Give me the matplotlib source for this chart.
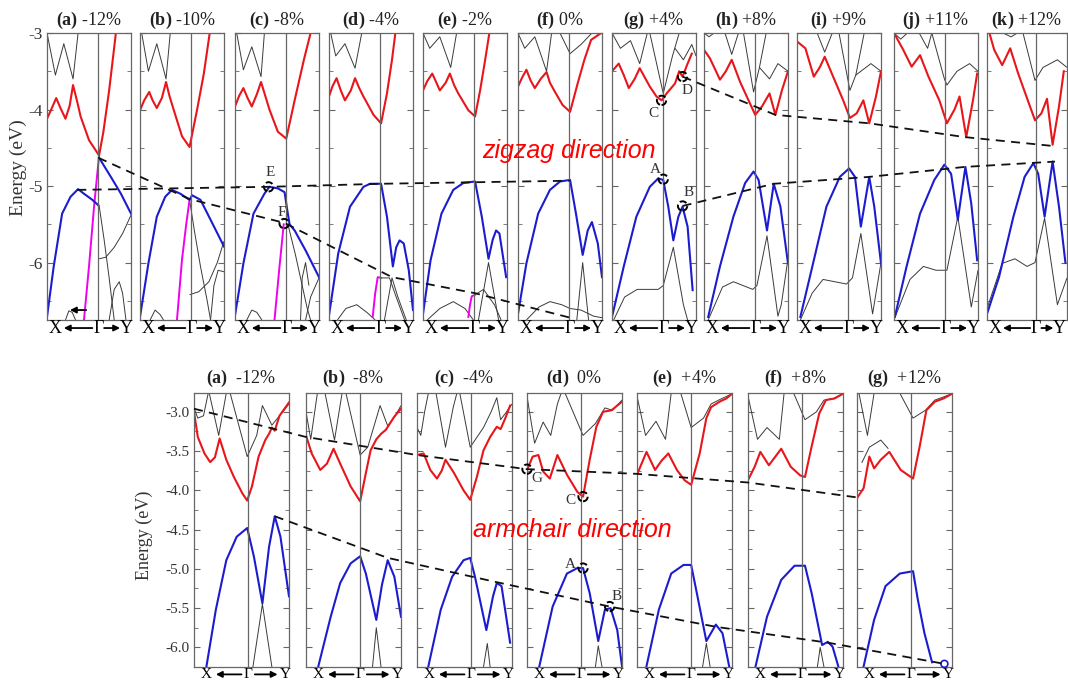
import matplotlib
matplotlib.use("Agg")
import matplotlib.pyplot as plt
from matplotlib.lines import Line2D
from matplotlib.ticker import MultipleLocator, FormatStrFormatter

plt.rcParams["font.family"] = ["Liberation Serif", "DejaVu Serif"]
plt.rcParams["mathtext.fontset"] = "custom"
plt.rcParams["mathtext.rm"] = "Liberation Serif"
plt.rcParams["mathtext.bf"] = "Liberation Serif:bold"

RED = "#e8161b"
BLUE = "#1c1ccf"
MAG = "#f000f0"
GRAY = "#3a3a3a"
FRAME = "#666666"

# ---------------- zigzag direction (top row) ----------------
ZZ_TAGS = ["(a)", "(b)", "(c)", "(d)", "(e)", "(f)", "(g)", "(h)", "(i)", "(j)", "(k)"]
ZZ_STRAIN = ["-12%", "-10%", "-8%", "-4%", "-2%", "0%", "+4%", "+8%", "+9%", "+11%", "+12%"]

za_cb = [(0, -4.12), (0.05, -4.0), (0.11, -3.85), (0.16, -3.98), (0.22, -4.12), (0.27, -3.95), (0.31, -3.68),
         (0.36, -3.9), (0.4, -4.09), (0.5, -4.4), (0.62, -4.6), (0.67, -4.3), (0.74, -3.75), (0.82, -3.0)]
za_vb = [[(0, -6.71), (0.08, -6.05), (0.18, -5.36), (0.28, -5.14), (0.37, -5.04), (0.44, -5.1), (0.54, -5.18), (0.61, -5.25)],
         [(0.62, -4.63), (0.76, -4.88), (0.88, -5.1), (1.0, -5.36)]]
za_mg = [(0.44, -6.75), (0.5, -6.05), (0.56, -5.27), (0.62, -4.6)]
za_gr = [[(0.0, -3.0), (0.1, -3.55), (0.2, -3.14), (0.31, -3.6), (0.37, -3.0)],
         [(0.62, -5.25), (0.68, -5.7), (0.74, -6.2), (0.8, -6.75)],
         [(0.62, -5.95), (0.7, -5.93), (0.8, -5.8), (0.9, -5.62), (1.0, -5.38)],
         [(0.74, -6.75), (0.8, -6.35), (0.86, -6.25), (0.9, -6.4), (0.94, -6.75)],
         [(0.22, -6.75), (0.26, -6.63), (0.3, -6.65), (0.34, -6.75)]]

zb_cb = [(0, -4.01), (0.05, -3.88), (0.11, -3.77), (0.15, -3.88), (0.2, -3.98), (0.26, -3.85), (0.31, -3.64),
         (0.35, -3.82), (0.4, -4.0), (0.5, -4.35), (0.59, -4.49), (0.68, -4.0), (0.76, -3.53), (0.83, -3.0)]
zb_vb = [[(0, -6.71), (0.1, -6.01), (0.2, -5.4), (0.3, -5.14), (0.38, -5.05), (0.48, -5.1), (0.59, -5.18),
          (0.62, -5.12), (0.72, -5.18), (0.84, -5.44), (1.0, -5.79)]]
zb_mg = [(0.44, -6.75), (0.5, -5.96), (0.55, -5.5), (0.59, -5.18)]
zb_gr = [[(0.02, -3.0), (0.1, -3.5), (0.2, -3.14), (0.31, -3.6), (0.36, -3.0)],
         [(0.59, -5.18), (0.65, -5.6), (0.72, -6.05), (0.8, -6.5), (0.84, -6.75)],
         [(0.59, -6.42), (0.7, -6.38), (0.82, -6.25), (0.92, -6.0), (1.0, -5.72)],
         [(0.84, -6.75), (0.88, -6.3), (0.93, -6.1), (1.0, -6.12)],
         [(0.12, -6.75), (0.18, -6.62), (0.24, -6.68), (0.28, -6.75)]]

zc_cb = [(0, -3.96), (0.05, -3.82), (0.1, -3.72), (0.15, -3.85), (0.2, -3.96), (0.26, -3.8), (0.31, -3.64),
         (0.36, -3.82), (0.41, -4.0), (0.51, -4.29), (0.61, -4.38), (0.71, -3.88), (0.82, -3.35), (0.9, -3.0)]
zc_vb = [[(0, -6.69), (0.1, -6.01), (0.22, -5.36), (0.35, -5.1), (0.41, -5.01), (0.51, -5.03), (0.59, -5.08),
          (0.62, -5.3), (0.65, -5.5), (0.71, -5.58), (0.84, -5.84), (1.0, -6.19)]]
zc_mg = [(0.47, -6.75), (0.53, -6.05), (0.58, -5.5)]
zc_gr = [[(0.02, -3.0), (0.1, -3.48), (0.2, -3.18), (0.31, -3.57), (0.35, -3.0)],
         [(0.63, -5.5), (0.72, -5.9), (0.8, -6.3), (0.86, -6.6), (0.9, -6.75)],
         [(0.78, -6.75), (0.8, -6.2), (0.84, -6.0), (0.88, -6.3)],
         [(0.84, -6.75), (0.9, -6.45), (0.96, -6.3), (1.0, -6.2)],
         [(0.14, -6.75), (0.2, -6.62), (0.26, -6.65), (0.32, -6.75)]]

zd_cb = [(0, -3.83), (0.04, -3.7), (0.09, -3.59), (0.14, -3.75), (0.19, -3.88), (0.26, -3.75), (0.31, -3.59),
         (0.36, -3.72), (0.41, -3.83), (0.53, -4.07), (0.62, -4.18), (0.69, -3.79), (0.75, -3.35), (0.79, -3.0)]
zd_vb = [[(0, -6.69), (0.11, -5.88), (0.25, -5.27), (0.41, -5.01), (0.49, -4.97), (0.62, -4.97), (0.69, -5.4),
          (0.76, -6.05), (0.8, -5.8), (0.84, -5.71), (0.89, -5.75), (0.95, -6.1), (1.0, -6.62)]]
zd_mg = [(0.52, -6.71), (0.55, -6.4), (0.58, -6.19), (0.62, -6.2)]
zd_gr = [[(0.02, -3.0), (0.08, -3.3), (0.19, -3.14), (0.31, -3.46), (0.39, -3.0)],
         [(0.1, -6.75), (0.2, -6.6), (0.33, -6.55), (0.45, -6.65), (0.55, -6.75)],
         [(0.62, -6.2), (0.72, -6.2), (0.8, -6.45), (0.9, -6.75)],
         [(0.66, -6.75), (0.75, -6.2), (0.82, -6.45), (0.92, -6.75)]]

ze_cb = [(0, -3.75), (0.05, -3.63), (0.11, -3.53), (0.16, -3.65), (0.2, -3.75), (0.27, -3.65), (0.32, -3.53),
         (0.37, -3.68), (0.42, -3.79), (0.54, -4.01), (0.62, -4.09), (0.68, -3.75), (0.74, -3.35), (0.79, -3.0)]
ze_vb = [[(0, -6.67), (0.09, -5.97), (0.22, -5.36), (0.36, -5.05), (0.48, -4.96), (0.62, -4.94), (0.70, -5.4),
          (0.78, -5.95), (0.83, -5.7), (0.87, -5.58), (0.91, -5.62), (0.99, -6.19)]]
ze_mg = [(0.54, -6.71), (0.56, -6.55), (0.58, -6.44), (0.62, -6.42)]
ze_gr = [[(0.0, -3.0), (0.08, -3.2), (0.2, -3.05), (0.33, -3.45), (0.4, -3.0)],
         [(0.05, -6.75), (0.2, -6.6), (0.36, -6.51), (0.5, -6.6), (0.6, -6.75)],
         [(0.62, -6.42), (0.72, -6.35), (0.85, -6.55), (0.93, -6.75)],
         [(0.66, -6.75), (0.78, -6.0), (0.9, -6.75)]]

zf_cb = [(0, -3.70), (0.05, -3.58), (0.1, -3.48), (0.15, -3.62), (0.2, -3.72), (0.27, -3.6), (0.34, -3.51),
         (0.38, -3.65), (0.43, -3.75), (0.53, -3.94), (0.62, -4.03), (0.71, -3.66), (0.79, -3.35), (0.87, -3.09),
         (0.99, -3.0)]
zf_vb = [[(0, -6.67), (0.1, -6.01), (0.24, -5.36), (0.38, -5.05), (0.5, -4.94), (0.62, -4.92), (0.69, -5.36),
          (0.77, -5.9), (0.83, -5.58), (0.88, -5.47), (0.95, -5.75), (1.0, -6.19)]]
zf_gr = [[(0.0, -3.0), (0.08, -3.2), (0.2, -3.05), (0.34, -3.5), (0.4, -3.0)],
         [(0.5, -3.0), (0.62, -3.27), (0.75, -3.15), (0.88, -3.0)],
         [(0.1, -6.75), (0.25, -6.58), (0.38, -6.51), (0.52, -6.55), (0.62, -6.6)],
         [(0.62, -6.6), (0.75, -6.62), (0.9, -6.7), (1.0, -6.72)],
         [(0.7, -6.75), (0.77, -6.0), (0.84, -6.75)]]

zg_cb = [(0, -3.5), (0.08, -3.4), (0.14, -3.55), (0.2, -3.72), (0.27, -3.6), (0.33, -3.46), (0.4, -3.6),
         (0.45, -3.7), (0.53, -3.83), (0.59, -3.88), (0.65, -3.79), (0.75, -3.66), (0.8, -3.5), (0.84, -3.57),
         (0.9, -3.4), (0.95, -3.27)]
zg_vb = [[(0, -6.71), (0.14, -6.05), (0.29, -5.4), (0.45, -5.01), (0.55, -4.9), (0.61, -4.92), (0.67, -5.27),
          (0.73, -5.71), (0.79, -5.4), (0.84, -5.27), (0.9, -5.53), (0.96, -6.36)]]
zg_gr = [[(0.0, -3.0), (0.1, -3.2), (0.22, -3.1), (0.33, -3.4), (0.42, -3.0)],
         [(0.45, -3.0), (0.61, -3.79), (0.72, -3.3), (0.8, -3.0)],
         [(0.75, -3.2), (0.85, -3.35), (0.95, -3.15), (1.0, -3.3)],
         [(0.02, -6.75), (0.15, -6.45), (0.3, -6.35), (0.55, -6.35), (0.61, -6.3), (0.73, -5.8), (0.85, -6.55),
          (0.9, -6.75)]]

zh_cb = [(0, -3.22), (0.07, -3.33), (0.19, -3.61), (0.26, -3.5), (0.33, -3.35), (0.43, -3.64), (0.53, -3.88),
         (0.61, -4.07), (0.69, -3.96), (0.78, -3.79), (0.85, -4.07), (0.93, -3.74), (1.0, -3.5)]
zh_vb = [[(0.05, -6.71), (0.19, -6.05), (0.35, -5.4), (0.49, -4.96), (0.59, -4.81), (0.65, -4.92), (0.75, -5.58),
          (0.83, -4.97), (0.91, -5.27), (1.0, -6.01)]]
zh_gr = [[(0.0, -3.0), (0.06, -3.05), (0.12, -3.0)],
         [(0.25, -3.0), (0.33, -3.28), (0.41, -3.0)],
         [(0.47, -3.0), (0.59, -3.77), (0.66, -3.45), (0.74, -3.0)],
         [(0.66, -3.45), (0.78, -3.6), (0.88, -3.4), (1.0, -3.5)],
         [(0.05, -6.75), (0.22, -6.32), (0.35, -6.25), (0.58, -6.35), (0.63, -6.3), (0.75, -5.65), (0.88, -6.7),
          (0.92, -6.55), (1.0, -5.95)]]

zi_cb = [(0, -3.11), (0.1, -3.2), (0.2, -3.57), (0.27, -3.45), (0.33, -3.31), (0.43, -3.57), (0.55, -3.88),
         (0.63, -4.11), (0.71, -4.05), (0.79, -3.88), (0.86, -4.18), (0.94, -3.83), (1.0, -3.5)]
zi_vb = [[(0.04, -6.71), (0.2, -5.97), (0.35, -5.27), (0.51, -4.88), (0.62, -4.77), (0.69, -4.88), (0.76, -5.53),
          (0.86, -4.88), (0.92, -5.27), (1.0, -6.01)]]
zi_gr = [[(0.24, -3.0), (0.33, -3.25), (0.42, -3.0)],
         [(0.5, -3.0), (0.63, -3.75), (0.7, -3.55), (0.8, -3.0)],
         [(0.7, -3.55), (0.88, -3.4), (1.0, -3.5)],
         [(0.04, -6.75), (0.18, -6.4), (0.31, -6.22), (0.59, -6.28), (0.66, -6.2), (0.76, -5.62), (0.9, -6.67),
          (1.0, -6.0)]]

zj_cb = [(0, -3.0), (0.11, -3.22), (0.21, -3.44), (0.31, -3.29), (0.41, -3.57), (0.54, -3.88), (0.63, -4.18),
         (0.72, -4.0), (0.78, -3.83), (0.86, -4.36), (0.94, -3.88), (0.99, -3.53)]
zj_vb = [[(0.01, -6.71), (0.15, -6.05), (0.31, -5.36), (0.48, -4.92), (0.6, -4.72), (0.68, -4.84), (0.76, -5.44),
          (0.85, -4.75), (0.92, -5.23), (0.99, -5.97)]]
zj_gr = [[(0.0, -3.0), (0.08, -3.08), (0.16, -3.0)],
         [(0.3, -3.0), (0.4, -3.2), (0.45, -3.0)],
         [(0.45, -3.0), (0.6, -3.6), (0.63, -3.68), (0.75, -3.5), (0.9, -3.4), (1.0, -3.5)],
         [(0.01, -6.72), (0.19, -6.22), (0.35, -6.05), (0.5, -6.1), (0.63, -6.1), (0.76, -5.4), (0.92, -6.58),
          (1.0, -6.1)]]

zk_cb = [(0.03, -3.0), (0.09, -3.22), (0.19, -3.42), (0.29, -3.2), (0.39, -3.53), (0.51, -3.88), (0.6, -4.14),
         (0.68, -4.05), (0.75, -3.86), (0.82, -4.46), (0.9, -3.96), (0.96, -3.5)]
zk_vb = [[(0, -6.67), (0.15, -6.19), (0.33, -5.4), (0.47, -4.88), (0.58, -4.7), (0.64, -4.84), (0.72, -5.4),
          (0.82, -4.68), (0.9, -5.27), (0.98, -6.0)]]
zk_gr = [[(0.2, -3.0), (0.3, -3.05), (0.38, -3.0)],
         [(0.45, -3.0), (0.6, -3.62), (0.7, -3.45), (0.88, -3.35), (1.0, -3.45)],
         [(0.0, -6.6), (0.19, -6.01), (0.35, -5.95), (0.5, -6.05), (0.6, -6.0), (0.72, -5.42), (0.88, -6.55),
          (1.0, -6.2)]]

ZZ_CB = [za_cb, zb_cb, zc_cb, zd_cb, ze_cb, zf_cb, zg_cb, zh_cb, zi_cb, zj_cb, zk_cb]
ZZ_VB = [za_vb, zb_vb, zc_vb, zd_vb, ze_vb, zf_vb, zg_vb, zh_vb, zi_vb, zj_vb, zk_vb]
ZZ_MG = [za_mg, zb_mg, zc_mg, zd_mg, ze_mg, None, None, None, None, None, None]
ZZ_GR = [za_gr, zb_gr, zc_gr, zd_gr, ze_gr, zf_gr, zg_gr, zh_gr, zi_gr, zj_gr, zk_gr]

# dashed guide lines: (panel, k, E)
zz_guide1 = [(0, 0.61, -4.63), (1, 0.59, -5.17), (2, 0.585, -5.48), (3, 0.75, -6.19), (4, 0.62, -6.40), (5, 0.62, -6.72)]
zz_guide2 = [(0, 0.36, -5.05), (2, 0.40, -5.01), (3, 0.62, -4.97), (4, 0.62, -4.95), (5, 0.62, -4.93)]
zz_guide3 = [(6, 0.84, -3.57), (7, 0.85, -4.07), (8, 0.86, -4.18), (9, 0.84, -4.36), (10, 0.86, -4.48)]
zz_guide4 = [(6, 0.84, -5.26), (7, 0.83, -4.97), (8, 0.86, -4.88), (9, 0.84, -4.75), (10, 0.85, -4.68)]
# marked points: (panel, k, E, label, dx px, dy px)
zz_marks = [(2, 0.40, -5.01, "E", 2, 14), (2, 0.585, -5.49, "F", -2, 11),
            (6, 0.61, -4.91, "A", -8, 10), (6, 0.84, -5.26, "B", 6, 13),
            (6, 0.59, -3.88, "C", -8, -13), (6, 0.84, -3.57, "D", 4, -14)]

# ---------------- armchair direction (bottom row) ----------------
AC_TAGS = ["(a)", "(b)", "(c)", "(d)", "(e)", "(f)", "(g)"]
AC_STRAIN = ["-12%", "-8%", "-4%", "0%", "+4%", "+8%", "+12%"]

aa_cb = [(0, -3.0), (0.04, -3.32), (0.11, -3.53), (0.17, -3.64), (0.22, -3.58), (0.27, -3.34), (0.34, -3.61),
         (0.42, -3.83), (0.51, -4.04), (0.56, -4.13), (0.61, -3.95), (0.68, -3.57), (0.75, -3.36), (0.79, -3.28),
         (0.82, -3.2), (0.85, -3.24), (0.9, -3.05), (1.0, -2.88)]
aa_vb = [(0.13, -6.25), (0.23, -5.52), (0.34, -4.89), (0.45, -4.59), (0.56, -4.48), (0.63, -4.84), (0.72, -5.44),
         (0.79, -4.72), (0.85, -4.33), (0.91, -4.59), (1.0, -5.35)]
aa_gr = [[(0.0, -2.95), (0.04, -3.08), (0.1, -3.05), (0.15, -2.76)],
         [(0.16, -2.76), (0.26, -3.3), (0.34, -2.76)],
         [(0.38, -2.76), (0.56, -3.57), (0.66, -3.3), (0.72, -2.92), (0.82, -3.17), (0.9, -3.05), (1.0, -2.9)],
         [(0.62, -6.25), (0.72, -5.45), (0.82, -6.25)]]

ab_cb = [(0, -3.3), (0.06, -3.53), (0.15, -3.74), (0.22, -3.66), (0.29, -3.47), (0.36, -3.66), (0.47, -3.95),
         (0.57, -4.14), (0.63, -3.78), (0.68, -3.49), (0.74, -3.35), (0.79, -3.28), (0.84, -3.23), (0.93, -3.06),
         (1.0, -2.96)]
ab_vb = [(0.13, -6.24), (0.26, -5.61), (0.36, -5.18), (0.47, -4.93), (0.57, -4.84), (0.63, -5.06), (0.74, -5.65),
         (0.8, -5.2), (0.86, -4.89), (0.93, -5.1), (1.0, -5.61)]
ab_gr = [[(0.0, -3.0), (0.05, -3.35), (0.12, -2.76)],
         [(0.2, -2.76), (0.3, -3.36), (0.38, -2.76)],
         [(0.42, -2.76), (0.57, -3.55), (0.65, -3.45), (0.78, -2.92), (0.86, -3.18), (0.94, -3.05), (1.0, -2.92)],
         [(0.7, -6.25), (0.74, -5.75), (0.79, -6.25)]]

ac_cb = [(0, -3.55), (0.07, -3.53), (0.14, -3.74), (0.21, -3.85), (0.26, -3.75), (0.3, -3.61), (0.39, -3.78),
         (0.49, -4.0), (0.56, -4.12), (0.63, -3.83), (0.7, -3.49), (0.77, -3.32), (0.84, -3.19), (0.88, -3.22),
         (0.93, -3.08), (0.98, -2.92)]
ac_vb = [(0.12, -6.24), (0.25, -5.52), (0.37, -5.1), (0.49, -4.89), (0.56, -4.86), (0.61, -5.1), (0.73, -5.78),
         (0.8, -5.35), (0.84, -5.18), (0.89, -5.22), (0.98, -5.94)]
ac_gr = [[(0.0, -3.2), (0.04, -3.3), (0.08, -3.0), (0.12, -2.76)],
         [(0.2, -2.76), (0.3, -3.45), (0.38, -2.95), (0.42, -2.76)],
         [(0.45, -2.76), (0.56, -3.45), (0.7, -3.2), (0.78, -3.0), (0.84, -2.82), (0.88, -3.1), (0.93, -3.02),
          (1.0, -2.9)],
         [(0.7, -6.25), (0.74, -5.95), (0.77, -6.25)]]

ad_cb = [(0, -3.74), (0.06, -3.57), (0.12, -3.55), (0.17, -3.76), (0.24, -3.85), (0.32, -3.55), (0.42, -3.8),
         (0.53, -4.02), (0.59, -4.08), (0.66, -3.61), (0.73, -3.19), (0.8, -3.0), (0.89, -2.98), (1.0, -2.87)]
ad_vb = [(0.13, -6.24), (0.27, -5.48), (0.42, -5.06), (0.53, -4.99), (0.59, -4.99), (0.66, -5.31), (0.75, -5.92),
         (0.82, -5.52), (0.88, -5.5), (0.95, -5.78), (1.0, -6.24)]
ad_gr = [[(0.0, -2.8), (0.08, -3.4), (0.17, -3.13), (0.25, -3.3), (0.32, -2.9), (0.36, -2.76)],
         [(0.4, -2.76), (0.59, -3.3), (0.72, -3.15), (0.82, -2.95), (0.9, -2.98), (1.0, -2.85)],
         [(0.72, -6.25), (0.75, -5.98), (0.79, -6.25)]]

ae_cb = [(0, -3.8), (0.1, -3.51), (0.19, -3.74), (0.26, -3.62), (0.33, -3.53), (0.42, -3.74), (0.5, -3.87),
         (0.57, -3.93), (0.66, -3.53), (0.73, -3.08), (0.78, -2.94), (0.87, -2.87), (0.94, -2.83), (1.0, -2.77)]
ae_vb = [(0.1, -6.24), (0.23, -5.52), (0.36, -5.06), (0.49, -4.95), (0.57, -4.95), (0.63, -5.31), (0.73, -5.92),
         (0.83, -5.71), (0.9, -5.82), (0.97, -6.24)]
ae_gr = [[(0.0, -2.8), (0.09, -3.3), (0.2, -3.12), (0.3, -3.35), (0.36, -2.76)],
         [(0.46, -2.76), (0.57, -3.2), (0.7, -3.08), (0.78, -2.9), (0.86, -2.85), (1.0, -2.77)],
         [(0.69, -6.25), (0.73, -5.95), (0.77, -6.25)]]

af_cb = [(0, -3.87), (0.07, -3.7), (0.13, -3.51), (0.22, -3.68), (0.35, -3.47), (0.45, -3.7), (0.55, -3.81),
         (0.6, -3.83), (0.67, -3.44), (0.75, -3.02), (0.82, -2.85), (0.91, -2.83), (1.0, -2.77)]
af_vb = [(0.08, -6.24), (0.2, -5.61), (0.35, -5.14), (0.49, -4.96), (0.6, -4.96), (0.67, -5.31), (0.78, -5.97),
         (0.84, -5.93), (0.89, -5.99), (0.95, -6.24)]
af_gr = [[(0.0, -2.8), (0.1, -3.35), (0.2, -3.2), (0.33, -3.35), (0.38, -2.76)],
         [(0.48, -2.76), (0.6, -3.1), (0.72, -3.0), (0.8, -2.85), (0.9, -2.83), (1.0, -2.77)],
         [(0.73, -6.25), (0.76, -6.0), (0.8, -6.25)]]

ag_cb = [(0, -4.1), (0.07, -3.97), (0.13, -3.57), (0.18, -3.72), (0.25, -3.61), (0.34, -3.51), (0.46, -3.74),
         (0.59, -3.85), (0.66, -3.44), (0.73, -2.98), (0.82, -2.87), (0.91, -2.83), (1.0, -2.77)]
ag_vb = [(0.07, -6.24), (0.18, -5.65), (0.3, -5.22), (0.45, -5.06), (0.59, -5.03), (0.64, -5.39), (0.71, -5.82),
         (0.79, -6.19)]
ag_gr = [[(0.02, -2.76), (0.11, -3.3), (0.18, -2.76)],
         [(0.05, -3.65), (0.13, -3.45), (0.25, -3.36), (0.33, -3.47)],
         [(0.45, -2.76), (0.59, -3.08), (0.72, -2.98), (0.82, -2.85), (1.0, -2.77)]]

AC_CB = [aa_cb, ab_cb, ac_cb, ad_cb, ae_cb, af_cb, ag_cb]
AC_VB = [[aa_vb], [ab_vb], [ac_vb], [ad_vb], [ae_vb], [af_vb], [ag_vb]]
AC_GR = [aa_gr, ab_gr, ac_gr, ad_gr, ae_gr, af_gr, ag_gr]

ac_guide1 = [(0, 0.0, -2.96), (1, 0.0, -3.32), (2, 0.0, -3.55), (3, 0.0, -3.73), (4, 0.0, -3.79), (5, 0.0, -3.90),
             (6, 0.0, -4.09)]
ac_guide2 = [(0, 0.85, -4.33), (1, 0.86, -4.86), (2, 0.84, -5.17), (3, 0.87, -5.48), (4, 0.84, -5.74),
             (5, 0.84, -5.94), (6, 0.92, -6.21)]
ac_marks = [(3, 0.0, -3.73, "G", 10, -9), (3, 0.59, -4.08, "C", -13, -4),
            (3, 0.59, -4.99, "A", -13, 4), (3, 0.87, -5.48, "B", 7, 10)]

# ---------------- layout ----------------
W, H = 1068, 681
ZZ_LEFT = [47, 140, 235, 329, 423, 518, 612, 704, 797, 894, 987]
ZZ_WIDTH = [84, 84, 84, 84, 84, 84, 84, 84, 84, 84, 80]
ZZ_TOP, ZZ_BOT, ZZ_G = 33, 320, 0.61
AC_LEFT = [194, 306, 417, 527, 637, 748, 857]
AC_W, AC_TOP, AC_BOT, AC_G = 95, 393, 667, 0.57

fig = plt.figure(figsize=(W / 100, H / 100), dpi=100)


def draw_panel(ax, g, cb, vbs, grays, mg, ylim, major, minor, fmt, show_labels, tick_fs,
               lab_y, lab_fs, kx, ky):
    for seg in grays:
        k, e = zip(*seg)
        ax.plot(k, e, color=GRAY, lw=0.7, solid_capstyle="butt")
    if mg:
        k, e = zip(*mg)
        ax.plot(k, e, color=MAG, lw=1.4)
    for seg in vbs:
        k, e = zip(*seg)
        ax.plot(k, e, color=BLUE, lw=1.5)
    k, e = zip(*cb)
    ax.plot(k, e, color=RED, lw=1.5)
    ax.axvline(g, color=FRAME, lw=0.9)
    ax.set_xlim(0, 1)
    ax.set_ylim(*ylim)
    ax.set_xticks([])
    ax.yaxis.set_major_locator(MultipleLocator(major))
    ax.yaxis.set_minor_locator(MultipleLocator(minor))
    ax.yaxis.set_major_formatter(FormatStrFormatter(fmt))
    ax.tick_params(axis="y", which="both", direction="in", left=True, right=True, color=FRAME,
                   labelleft=show_labels, labelsize=tick_fs, labelcolor="#333333", pad=3)
    ax.tick_params(axis="y", which="major", length=4)
    ax.tick_params(axis="y", which="minor", length=3)
    for s in ax.spines.values():
        s.set_color(FRAME)
        s.set_linewidth(0.9)
    # k-path labels  X <-- G --> Y
    for x, t in [(kx, "X"), (g, "\u0393"), (ky, "Y")]:
        ax.text(x, lab_y, t, transform=ax.transAxes, ha="center", va="center", fontsize=lab_fs)
    ap = dict(arrowstyle="-|>", color="k", lw=1.3, shrinkA=0, shrinkB=0, mutation_scale=9)
    ax.annotate("", xy=(kx + 0.1, lab_y), xytext=(g - 0.07, lab_y), xycoords="axes fraction",
                arrowprops=ap, annotation_clip=False)
    ax.annotate("", xy=(ky - 0.08, lab_y), xytext=(g + 0.07, lab_y), xycoords="axes fraction",
                arrowprops=ap, annotation_clip=False)


zz_axes = []
for i, left in enumerate(ZZ_LEFT):
    ax = fig.add_axes([left / W, 1 - ZZ_BOT / H, ZZ_WIDTH[i] / W, (ZZ_BOT - ZZ_TOP) / H])
    draw_panel(ax, ZZ_G, ZZ_CB[i], ZZ_VB[i] if isinstance(ZZ_VB[i][0], list) else [ZZ_VB[i]], ZZ_GR[i],
               ZZ_MG[i], (-6.75, -3.0), 1.0, 0.5, "%d", i == 0, 12.5, -0.028, 13,
               0.1, 0.95 if i < 10 else 0.91)
    ax.set_title(r"$\mathbf{%s}$ %s" % (ZZ_TAGS[i], ZZ_STRAIN[i]), fontsize=13, pad=6, color="#222222")
    zz_axes.append(ax)

# small arrow drawn inside panel (a)
zz_axes[0].annotate("", xy=(0.24, -6.62), xytext=(0.5, -6.62),
                    arrowprops=dict(arrowstyle="-|>", color="k", lw=1.3, mutation_scale=9))

ac_axes = []
for i, left in enumerate(AC_LEFT):
    ax = fig.add_axes([left / W, 1 - AC_BOT / H, AC_W / W, (AC_BOT - AC_TOP) / H])
    draw_panel(ax, AC_G, AC_CB[i], AC_VB[i], AC_GR[i], None, (-6.25, -2.76), 0.5, 0.25, "%.1f",
               i == 0, 11, -0.027, 11, 0.13, 0.96)
    ax.set_title(r"$\mathbf{%s}$  %s" % (AC_TAGS[i], AC_STRAIN[i]), fontsize=13, pad=7, color="#222222")
    ac_axes.append(ax)


def to_fig(axes, pts):
    inv = fig.transFigure.inverted()
    out = [inv.transform(axes[p].transData.transform((k, e))) for p, k, e in pts]
    return [o[0] for o in out], [o[1] for o in out]


for axes, guide in [(zz_axes, zz_guide1), (zz_axes, zz_guide2), (zz_axes, zz_guide3), (zz_axes, zz_guide4),
                    (ac_axes, ac_guide1), (ac_axes, ac_guide2)]:
    xs, ys = to_fig(axes, guide)
    fig.add_artist(Line2D(xs, ys, transform=fig.transFigure, color="#111111", lw=1.3,
                          linestyle=(0, (5, 3.5)), zorder=5))

for axes, marks in [(zz_axes, zz_marks), (ac_axes, ac_marks)]:
    for p, k, e, lab, dx, dy in marks:
        ax = axes[p]
        ax.scatter([k], [e], s=45, facecolors="none", edgecolors="k", linewidths=1.4,
                   linestyles="--", zorder=6, clip_on=False)
        ax.annotate(lab, (k, e), xytext=(dx, dy), textcoords="offset pixels", ha="center", va="center",
                    fontsize=11, color="#333333", annotation_clip=False)

# tiny marker where the lower armchair guide ends in panel (g)
ac_axes[6].scatter([0.92], [-6.21], s=25, facecolors="none", edgecolors=BLUE, linewidths=1.2, zorder=6,
                   clip_on=False)

fig.text(18 / W, 1 - 168 / H, "Energy (eV)", rotation=90, ha="center", va="center", fontsize=14, color="#333333")
fig.text(144 / W, 1 - 535 / H, "Energy (eV)", rotation=90, ha="center", va="center", fontsize=13, color="#333333")

fig.text(569 / W, 1 - 151 / H, "zigzag direction", color="red", fontsize=18, style="italic",
         family="Liberation Sans", ha="center", va="center", zorder=10)
fig.text(572 / W, 1 - 530 / H, "armchair direction", color="red", fontsize=18, style="italic",
         family="Liberation Sans", ha="center", va="center", zorder=10)

fig.savefig("out.png", dpi=100)
